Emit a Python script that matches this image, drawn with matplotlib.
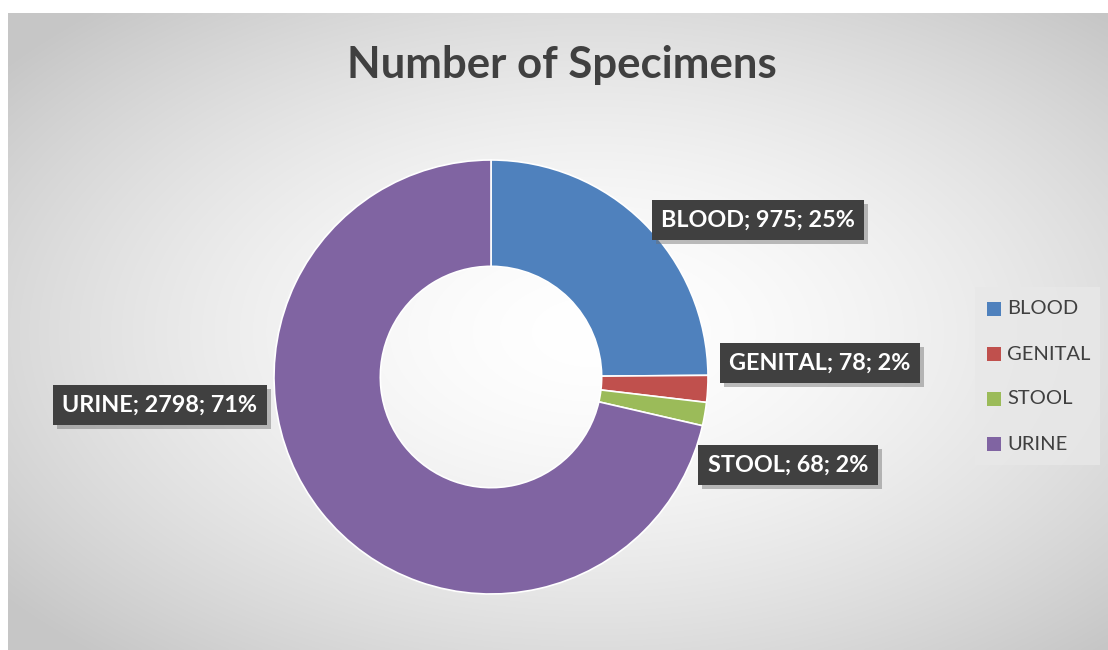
import numpy as np
import matplotlib
matplotlib.use("Agg")
import matplotlib.pyplot as plt
from matplotlib.patches import Rectangle

categories = ["BLOOD", "GENITAL", "STOOL", "URINE"]
values = [975, 78, 68, 2798]
percents = ["25%", "2%", "2%", "71%"]
colors = ["#4F81BD", "#C0504D", "#9BBB59", "#8064A2"]
title = "Number of Specimens"

plt.rcParams['font.family'] = ['Lato', 'DejaVu Sans']

W, H = 1108, 650
fig = plt.figure(figsize=(W / 100, H / 100), dpi=100)
fig.patch.set_facecolor("white")

# background radial gradient for chart area
bg = fig.add_axes([8 / W, 0, 1 - 8 / W, (H - 13) / H])
bg.set_axis_off()
ny, nx = 320, 550
yy, xx = np.mgrid[0:ny, 0:nx]
cx, cy = nx * 0.53, ny * 0.50
d = np.sqrt(((xx - cx) / (nx * 0.5)) ** 2 + ((yy - cy) / (ny * 0.5)) ** 2)
d = np.clip(d / 1.35, 0, 1)
g = 1.0 - 0.22 * d ** 1.6
img = np.dstack([g, g, g])
bg.imshow(img, aspect="auto", extent=[0, 1, 0, 1], interpolation="bilinear")
bg.set_xlim(0, 1)
bg.set_ylim(0, 1)

ax = fig.add_axes([0, 0, 1, 1])
ax.patch.set_alpha(0)
cx_p, cy_p, r = 491, H - 377, 217
wedges, _ = ax.pie(values, colors=colors, startangle=90, counterclock=False,
                   radius=r, center=(cx_p, cy_p), frame=True,
                   wedgeprops=dict(width=r * 0.49, edgecolor="white", linewidth=1.2))
ax.set_xlim(0, W)
ax.set_ylim(0, H)
ax.set_aspect("auto")
ax.set_axis_off()

ax.text(562, H - 65, title, ha="center", va="center", fontsize=31.5,
        fontweight="bold", color="#404040")

label_pos = [(758, 220), (820, 363), (788, 465), (160, 405)]
texts = []
for cat, v, p, (lx, ly) in zip(categories, values, percents, label_pos):
    s = f"{cat}; {v}; {p}"
    t = ax.text(lx, H - ly, s, ha="center", va="center", fontsize=16.8,
                fontweight="bold", color="white", zorder=5,
                bbox=dict(boxstyle="square,pad=0.4", fc="#404040", ec="none"))
    texts.append(t)

fig.canvas.draw()
renderer = fig.canvas.get_renderer()
for t in texts:
    bb = t.get_bbox_patch().get_window_extent(renderer)
    ax.add_patch(Rectangle((bb.x0 + 4, bb.y0 - 4), bb.width, bb.height,
                           fc="#6e6e6e", ec="none", alpha=0.45, zorder=4))

# legend
ax.add_patch(Rectangle((975, H - 465), 125, 178, fc="#e8e8e8", ec="none", alpha=0.8))
leg_y = [309, 354, 399, 444]
for cat, c, ly in zip(categories, colors, leg_y):
    ax.add_patch(Rectangle((987, H - ly - 7), 14, 14, fc=c, ec="none"))
    ax.text(1007, H - ly, cat, ha="left", va="center", fontsize=14.5, color="#404040")

fig.savefig("out.png", dpi=100)
